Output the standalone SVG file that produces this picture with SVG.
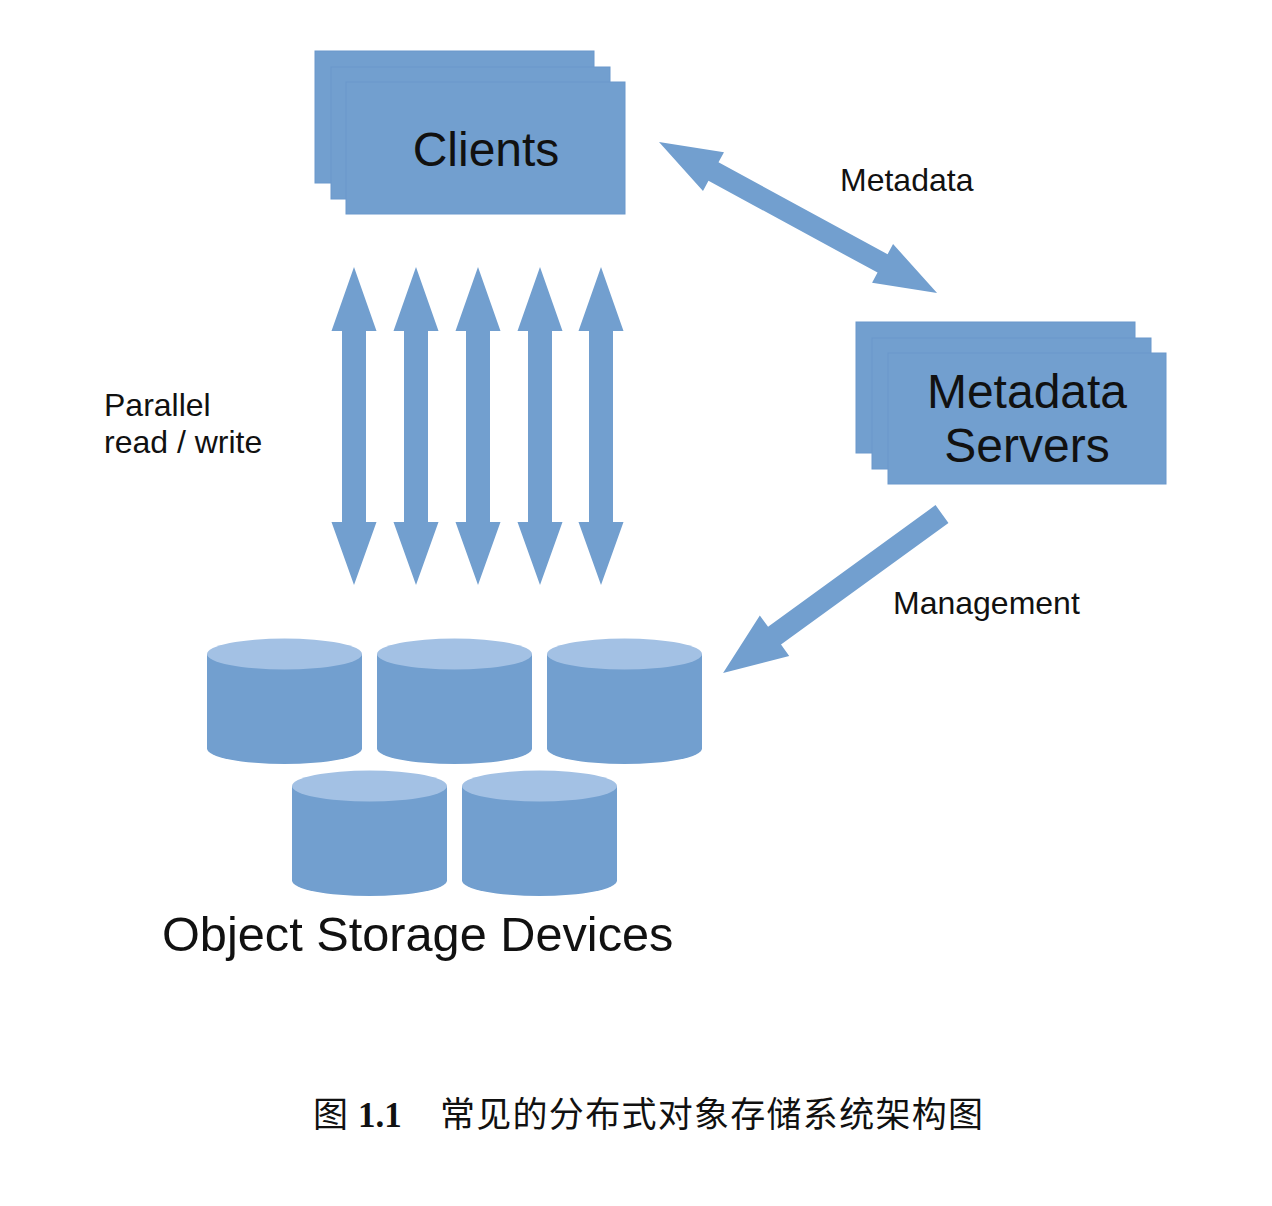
<svg xmlns="http://www.w3.org/2000/svg" xmlns:xlink="http://www.w3.org/1999/xlink" width="1272" height="1206" viewBox="0 0 1272 1206">
  <style>
    .box { fill: #729fcf; stroke: #6a98cc; stroke-width: 1; }
    .arrow { fill: #729fcf; }
    .body { fill: #729fcf; }
    .top { fill: #a3c1e4; }
    .big { font-family: "Liberation Sans", Arial, sans-serif; font-size: 48px; fill: #111; }
    .lbl { font-family: "Liberation Sans", Arial, sans-serif; font-size: 32px; fill: #111; }
    .cap { font-family: "Noto Sans CJK SC", sans-serif; font-size: 35px; fill: #111; }
    .num { font-family: "Liberation Serif", "Times New Roman", serif; font-size: 35px; font-weight: bold; fill: #111; }
  </style>
  <defs>
    <path id="varrow" d="M0,267 L22.5,331 L12,331 L12,522 L22.5,522 L0,585 L-22.5,522 L-12,522 L-12,331 L-22.5,331 Z"/>
    <g id="cyl">
      <path class="body" d="M0,0 V94.5 A77.5,15.5 0 0 0 155,94.5 V0 Z"/>
      <ellipse class="top" cx="77.5" cy="0" rx="77.5" ry="15.5"/>
    </g>
  </defs>
  <rect width="1272" height="1206" fill="#ffffff"/>

  <g id="clients">
    <rect class="box" x="315" y="51" width="279" height="132"/>
    <rect class="box" x="331" y="67" width="279" height="132"/>
    <rect class="box" x="346" y="82" width="279" height="132"/>
    <text class="big" x="486" y="166" text-anchor="middle">Clients</text>
  </g>

  <g id="metadata-servers">
    <rect class="box" x="856" y="322" width="279" height="131"/>
    <rect class="box" x="872" y="338" width="279" height="131"/>
    <rect class="box" x="888" y="353" width="278" height="131"/>
    <text class="big" x="1027" y="408" text-anchor="middle">Metadata</text>
    <text class="big" x="1027" y="462" text-anchor="middle">Servers</text>
  </g>

  <g id="object-storage-devices">
    <use xlink:href="#cyl" href="#cyl" x="207" y="654"/>
    <use xlink:href="#cyl" href="#cyl" x="377" y="654"/>
    <use xlink:href="#cyl" href="#cyl" x="547" y="654"/>
    <use xlink:href="#cyl" href="#cyl" x="292" y="786"/>
    <use xlink:href="#cyl" href="#cyl" x="462" y="786"/>
    <text class="big" x="162" y="951" style="font-size:48.7px">Object Storage Devices</text>
  </g>

  <g id="connectors">
    <use class="arrow" xlink:href="#varrow" href="#varrow" x="354" y="0"/>
    <use class="arrow" xlink:href="#varrow" href="#varrow" x="416" y="0"/>
    <use class="arrow" xlink:href="#varrow" href="#varrow" x="478" y="0"/>
    <use class="arrow" xlink:href="#varrow" href="#varrow" x="540" y="0"/>
    <use class="arrow" xlink:href="#varrow" href="#varrow" x="601" y="0"/>
    <path class="arrow" transform="translate(659,142) rotate(28.5)" d="M0,0 L62,-22 L62,-10.5 L254.4,-10.5 L254.4,-22 L316.4,0 L254.4,22 L254.4,10.5 L62,10.5 L62,22 Z"/>
    <path class="arrow" transform="translate(942,514) rotate(144)" d="M0,-11 L207,-11 L207,-25 L270.6,0 L207,25 L207,11 L0,11 Z"/>
  </g>

  <g id="labels">
    <text class="lbl" x="840" y="191">Metadata</text>
    <text class="lbl" x="893" y="614">Management</text>
    <text class="lbl" x="104" y="416">Parallel</text>
    <text class="lbl" x="104" y="453">read / write</text>
  </g>

  <g id="caption">
    <text class="cap" x="313" y="1127">图</text>
    <text class="num" x="358" y="1127">1.1</text>
    <text class="cap" x="440" y="1127" textLength="543" lengthAdjust="spacing">常见的分布式对象存储系统架构图</text>
  </g>
</svg>
